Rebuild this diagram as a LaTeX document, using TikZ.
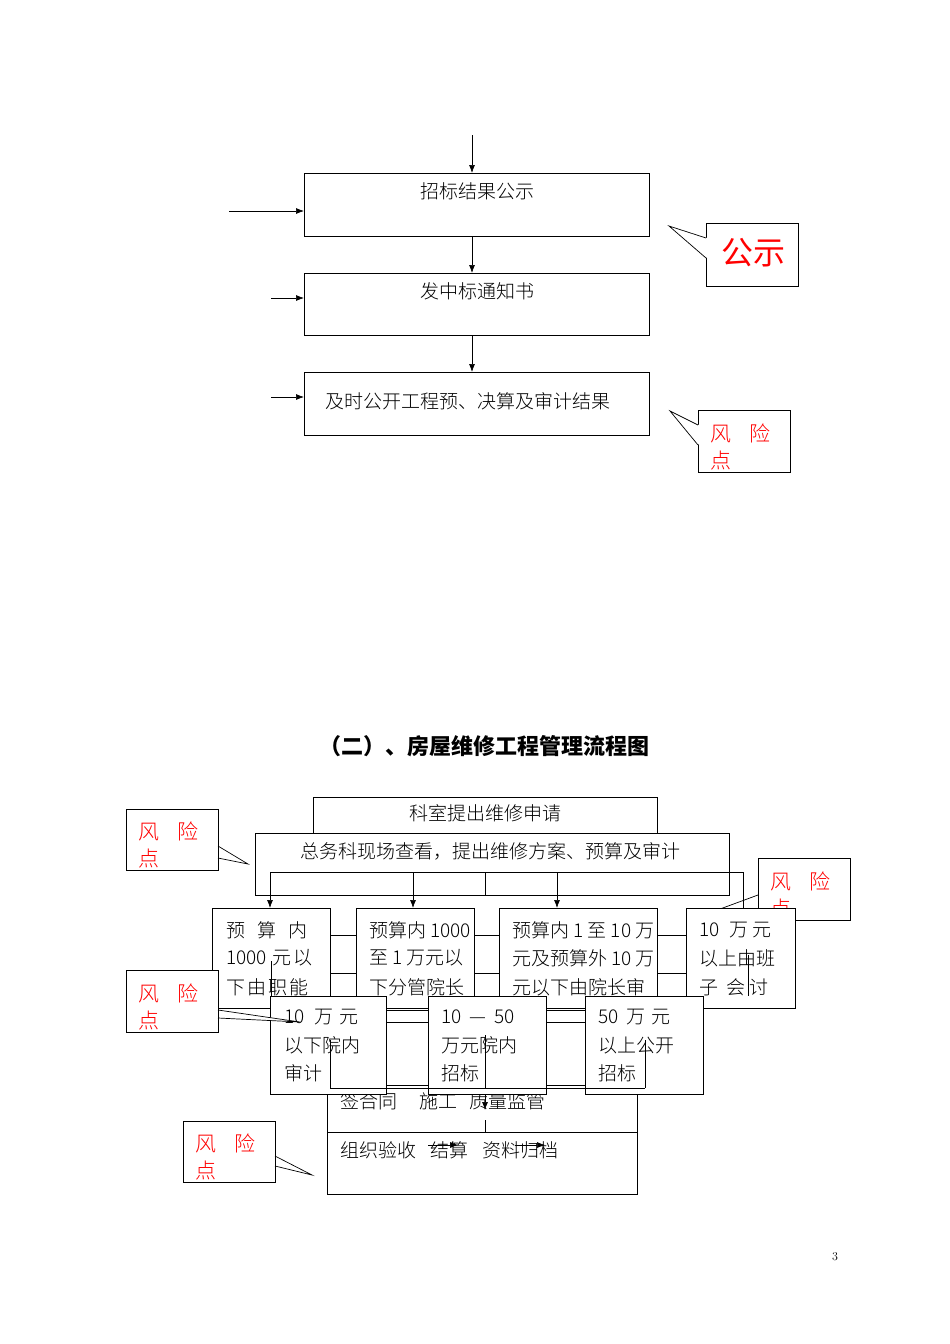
\documentclass[tikz,border=0pt]{standalone}
\usepackage{fontspec}
\newfontfamily\cjk{Noto Sans CJK SC}
\newfontfamily\cjkl{Noto Sans CJK SC Light}
\usetikzlibrary{arrows.meta}
\begin{document}
\begin{tikzpicture}[x=1pt,y=-1pt,
  bx/.style={draw,fill=white,line width=0.8pt},
  t/.style={font=\cjkl\fontsize{19}{19}\selectfont,anchor=west,inner sep=0pt},
  tc/.style={font=\cjkl\fontsize{19}{19}\selectfont,inner sep=0pt},
  red/.style={text=red,font=\cjkl\fontsize{21}{21}\selectfont,inner sep=0pt,anchor=west},
  ar/.style={-{Latex[length=8pt,width=6pt]},line width=0.7pt},
  ln/.style={line width=0.7pt}]
\useasboundingbox (0,0) rectangle (950,1344);
% ---------- top part
\draw[bx] (304,173) rectangle (649,236);
\node[tc] (z1) at (477,191) {招标结果公示};
\draw[bx] (304,273) rectangle (649,335);
\node[tc] (z2) at (477,291) {发中标通知书};
\draw[bx] (304,372) rectangle (649,435);
\node[tc] (z3) at (468,401) {及时公开工程预、决算及审计结果};
\coordinate (s0) at (472,135);
\draw[ar] (s0) -- (472,173);
\draw[ar] (472,236) -- (472,273);
\draw[ar] (472,335) -- (472,372);
\coordinate (a1) at (229,211); \draw[ar] (a1) -- (304,211);
\coordinate (a2) at (271,298); \draw[ar] (a2) -- (304,298);
\coordinate (a3) at (271,397); \draw[ar] (a3) -- (304,397);
% callout 公示
\draw[bx] (706,223) rectangle (798,286);
\fill[white] (707,238) -- (669,226) -- (707,258) -- cycle;
\draw[ln] (706,238) -- (669,226) -- (706,258);
\node[text=red,font=\cjk\fontsize{32}{32}\selectfont,inner sep=0pt] (gs) at (753,253) {公示};
% callout 风险点 top
\draw[bx] (698,410) rectangle (790,472);
\fill[white] (699,425) -- (670,411) -- (699,445) -- cycle;
\draw[ln] (698,425) -- (670,411) -- (698,445);
\node[red] (r0a) at (710,433) {风\hspace{18pt}险};
\node[red] (r0b) at (710,461) {点};
% ---------- title
\node[font=\cjk\bfseries\fontsize{22}{22}\selectfont] (title) at (484,746) {（二）、房屋维修工程管理流程图};
% ---------- lower part
\draw[bx] (313,797) rectangle (657,833);
\node[tc] (k1) at (485,813) {科室提出维修申请};
\draw[bx] (255,833) rectangle (729,895);
\node[tc] (k2) at (490,851) {总务科现场查看，提出维修方案、预算及审计};
% callout right (under box D)
\draw[bx] (758,858) rectangle (850,920);
\draw[ln] (758,895) -- (720,909);
\node[red] (r2a) at (770,881) {风\hspace{18pt}险};
\node[red] (r2b) at (770,909) {点};
\draw[ln] (270,872) -- (743,872) -- (743,908);
\draw[ln] (485,872) -- (485,895);
% bottom boxes
\draw[bx] (327,1085) rectangle (637,1132);
\node[t] (q1) at (340,1101) {签合同\hspace{22pt}施工\hspace{12pt}质量监管};
\draw[ar] (485,1088) -- (485,1110);
\draw[ln] (485,1120) -- (485,1132);
\draw[bx] (327,1132) rectangle (637,1194);
\node[t] (q2) at (340,1150) {组织验收\hspace{14pt}结算\hspace{14pt}资料归档};
\draw[ar] (428,1145) -- (458,1145);
\draw[ar] (515,1145) -- (545,1145);
% connectors row 1
\foreach \y in {935,973}{
 \draw[ln] (330,\y) -- (356,\y); \draw[ln] (474,\y) -- (499,\y); \draw[ln] (657,\y) -- (686,\y);}
\foreach \x in {270,413,557}{\draw[ar] (\x,872) -- (\x,908);}
% row 1 boxes
\draw[bx] (212,908) rectangle (330,1008);
\node[t] (b1) at (226,930) {预\hspace{12pt}算\hspace{12pt}内};
\node[t] (b2) at (226,958) {1000\hspace{6pt}元\hspace{2pt}以};
\node[t] (b3) at (226,987) {下\hspace{2pt}由\hspace{2pt}职\hspace{2pt}能};
\draw[bx] (356,908) rectangle (474,1008);
\node[t] (c1) at (369,930) {预算内 1000};
\node[t] (c2) at (369,958) {至 1 万元以};
\node[t] (c3) at (369,987) {下分管院长};
\draw[bx] (499,908) rectangle (657,1008);
\node[t] (d1) at (512,930) {预算内 1 至 10 万};
\node[t] (d2) at (512,958) {元及预算外 10 万};
\node[t] (d3) at (512,987) {元以下由院长审};
\draw[bx] (686,908) rectangle (795,1008);
\node[t] (e1) at (699,930) {10\hspace{10pt}万\hspace{4pt}元};
\node[t] (e2) at (699,958) {以上由班};
\node[t] (e3) at (699,987) {子\hspace{8pt}会\hspace{4pt}讨};
\draw[ln] (271,961) -- (271,996);
\draw[ln] (748,955) -- (748,996);
% connectors row 2
\foreach \y in {1010,1022}{
 \draw[ln] (386,\y) -- (428,\y); \draw[ln] (546,\y) -- (585,\y);}
% row 2 boxes
\draw[bx] (270,996) rectangle (386,1094);
\node[t] (f1) at (284,1017) {10\hspace{10pt}万\hspace{6pt}元};
\node[t] (f2) at (284,1045) {以下院内};
\node[t] (f3) at (284,1073) {审计};
\draw[bx] (428,996) rectangle (546,1094);
\node[t] (g1) at (441,1017) {10\hspace{8pt}—\hspace{8pt}50};
\node[t] (g2) at (441,1045) {万元院内};
\node[t] (g3) at (441,1073) {招标};
\draw[bx] (585,996) rectangle (703,1094);
\node[t] (h1) at (598,1017) {50\hspace{8pt}万\hspace{6pt}元};
\node[t] (h2) at (598,1045) {以上公开};
\node[t] (h3) at (598,1073) {招标};
\draw[ln] (330,1088) -- (645,1088);
\draw[ln] (330,1040) -- (330,1088);
\draw[ln] (485,1035) -- (485,1088);
\draw[ln] (645,1040) -- (645,1088);
% callouts lower
\draw[bx] (126,809) rectangle (218,870);
\fill[white] (219,846) -- (248,864) -- (219,858) -- cycle;
\draw[ln] (218,846) -- (248,864) -- (218,858);
\node[red] (r1a) at (138,831) {风\hspace{18pt}险};
\node[red] (r1b) at (138,859) {点};
\draw[bx] (126,970) rectangle (218,1032);
\fill[white] (219,1010) -- (300,1022) -- (219,1018) -- cycle;
\draw[ln] (218,1010) -- (300,1022) -- (218,1018);
\node[red] (r3a) at (138,993) {风\hspace{18pt}险};
\node[red] (r3b) at (138,1021) {点};
\draw[bx] (183,1121) rectangle (275,1182);
\fill[white] (276,1156) -- (312,1175) -- (276,1166) -- cycle;
\draw[ln] (275,1156) -- (312,1175) -- (275,1166);
\node[red] (r4a) at (195,1143) {风\hspace{18pt}险};
\node[red] (r4b) at (195,1171) {点};
\node[font=\fontsize{12}{12}\selectfont] (pg) at (835,1257) {3};
\end{tikzpicture}
\end{document}
